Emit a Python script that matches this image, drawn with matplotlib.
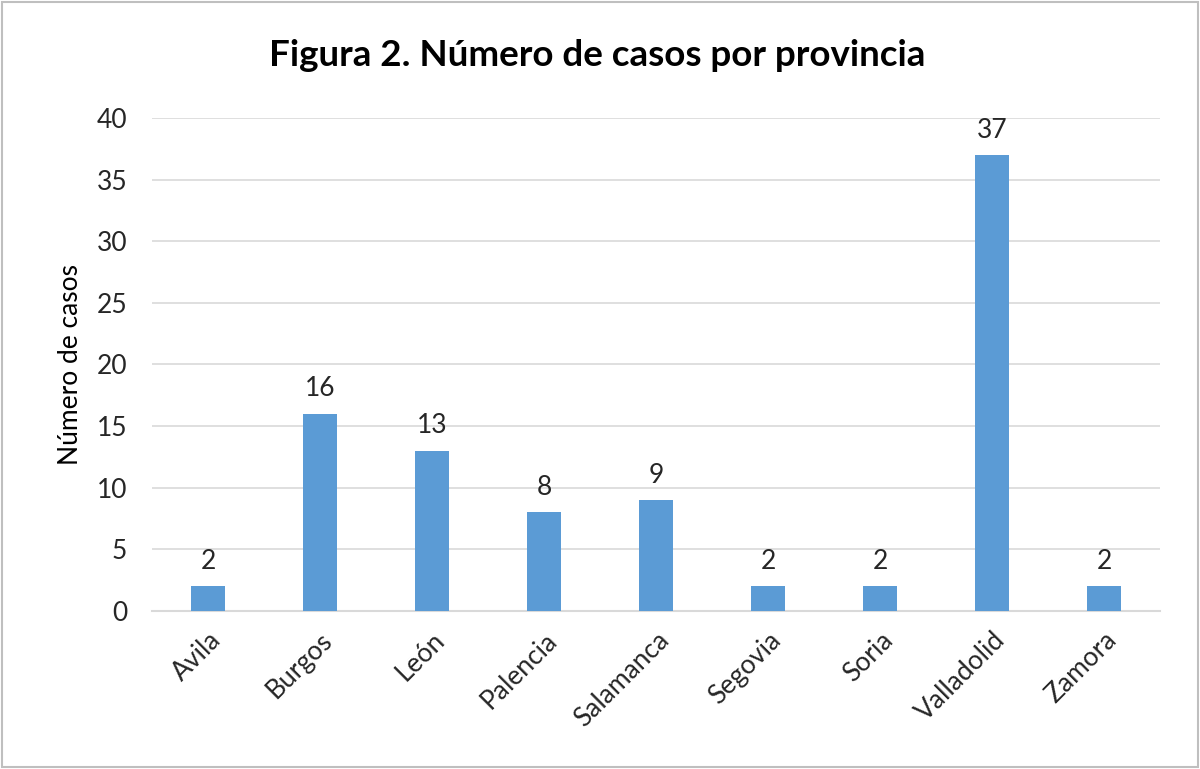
import matplotlib
matplotlib.use("Agg")
import matplotlib.pyplot as plt
from matplotlib.patches import Rectangle

provincias = ["Avila", "Burgos", "León", "Palencia", "Salamanca", "Segovia", "Soria", "Valladolid", "Zamora"]
casos = [2, 16, 13, 8, 9, 2, 2, 37, 2]
yticks = [0, 5, 10, 15, 20, 25, 30, 35, 40]

plt.rcParams['font.family'] = ['Lato', 'DejaVu Sans']

fig = plt.figure(figsize=(12, 7.69), dpi=100)
ax = fig.add_axes([0.1267, 0.2055, 0.84, 0.6411])

x = list(range(len(provincias)))
bars = ax.bar(x, casos, width=0.3, color="#5B9BD5", zorder=3)
for xi, v in zip(x, casos):
    ax.text(xi, v + 1.0, str(v), ha="center", va="bottom", fontsize=19, color="#262626")

ax.set_xlim(-0.5, len(provincias) - 0.5)
ax.set_ylim(0, 40)
ax.set_yticks(yticks)
ax.set_yticklabels([str(t) for t in yticks], fontsize=19, color="#262626")
ax.set_xticks(x)
ax.set_xticklabels(provincias, rotation=45, ha="right", rotation_mode="anchor", fontsize=19, color="#262626")
ax.tick_params(axis="both", length=0)
ax.tick_params(axis="y", pad=18)
ax.tick_params(axis="x", pad=12)
ax.grid(axis="y", color="#D9D9D9", linewidth=1.2, zorder=0)
for s in ["top", "right", "left"]:
    ax.spines[s].set_visible(False)
ax.spines["bottom"].set_color("#D9D9D9")
ax.spines["bottom"].set_linewidth(1.5)

ax.set_ylabel("Número de casos", fontsize=19, color="#000000", labelpad=10)
fig.text(0.498, 0.928, "Figura 2. Número de casos por provincia", ha="center", va="center",
         fontsize=26.5, fontweight="bold", color="#000000")

fig.patches.append(Rectangle((0.002, 0.003), 0.996, 0.994, transform=fig.transFigure,
                             fill=False, edgecolor="#BFBFBF", linewidth=1.5))

fig.savefig("out.png", dpi=100, facecolor="white")
